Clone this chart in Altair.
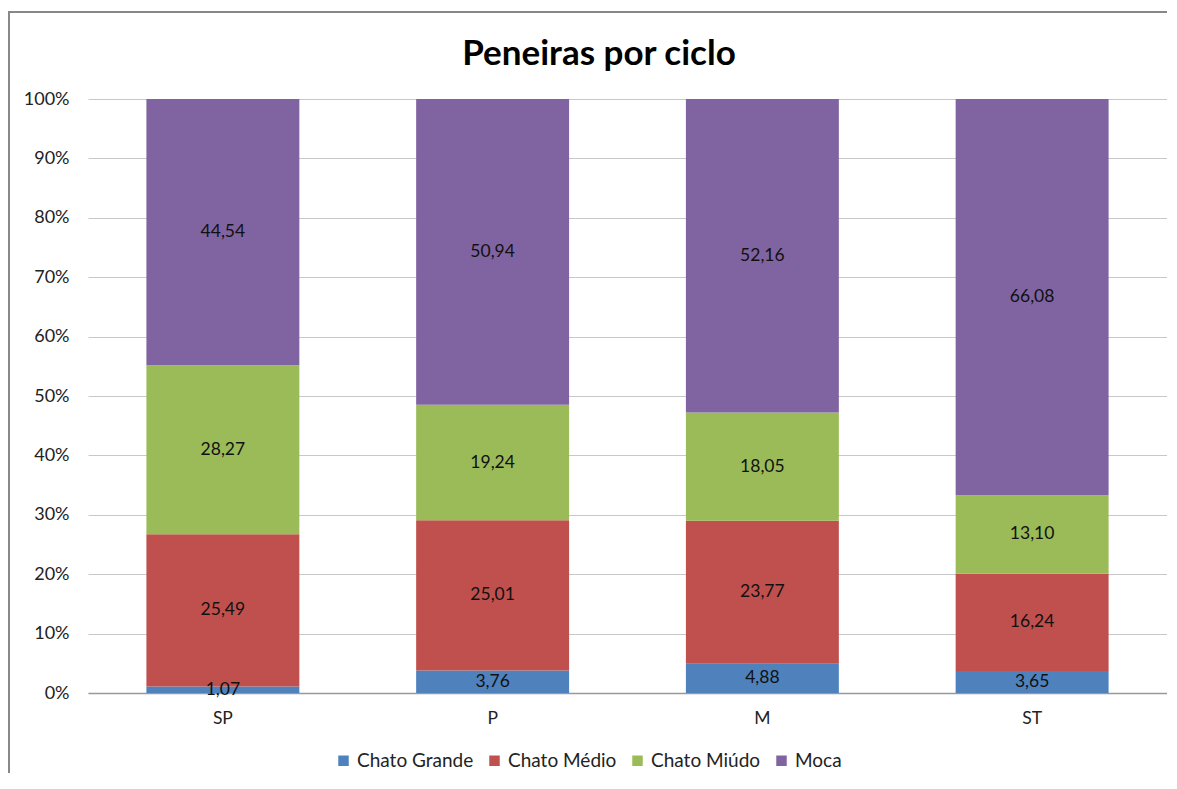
import altair as alt
import pandas as pd

title_text = "Peneiras por ciclo"
categories = ["SP", "P", "M", "ST"]
series = ["Chato Grande", "Chato Médio", "Chato Miúdo", "Moca"]
chato_grande = [1.07, 3.76, 4.88, 3.65]
chato_medio = [25.49, 25.01, 23.77, 16.24]
chato_miudo = [28.27, 19.24, 18.05, 13.10]
moca = [44.54, 50.94, 52.16, 66.08]
colors = ["#4F81BD", "#C0504D", "#9BBB59", "#8064A2"]
y_ticks = [0, 0.1, 0.2, 0.3, 0.4, 0.5, 0.6, 0.7, 0.8, 0.9, 1.0]

rows = []
for si, (name, vals) in enumerate(zip(series, [chato_grande, chato_medio, chato_miudo, moca])):
    for ci, cat in enumerate(categories):
        rows.append({"cat": cat, "series": name, "value": vals[ci], "order": si})
df = pd.DataFrame(rows)

FONT = "Lato"
W, H = 1079, 594

base = alt.Chart(df).transform_stack(
    stack="value", groupby=["cat"], offset="normalize",
    sort=[alt.SortField("order", order="ascending")], as_=["y0", "y1"]
).transform_calculate(
    mid="(datum.y0 + datum.y1) / 2",
    label="replace(format(datum.value, '.2f'), '.', ',')"
)

xenc = alt.X("cat:N", sort=categories, title=None,
             scale=alt.Scale(paddingInner=0.433, paddingOuter=0.2165),
             axis=alt.Axis(labelAngle=0, labelFontSize=17.5, labelFont=FONT, labelColor="#222",
                           ticks=False, domainColor="#999", domainWidth=1.5, labelPadding=16))

bars = base.mark_bar(stroke=None).encode(
    x=xenc,
    y=alt.Y("y0:Q", title=None, scale=alt.Scale(domain=[0, 1], nice=False),
            axis=alt.Axis(format=".0%", values=y_ticks, labelFontSize=18, labelFont=FONT,
                          labelColor="#222", ticks=False, domain=False, gridColor="#c8c8c8",
                          gridWidth=1.2, labelPadding=19)),
    y2="y1:Q",
    color=alt.Color("series:N", sort=series,
                    scale=alt.Scale(domain=series, range=colors),
                    legend=alt.Legend(title=None, orient="none", direction="horizontal",
                                      legendX=246, legendY=652, symbolType="square",
                                      symbolSize=110, symbolStrokeWidth=0, labelFontSize=19,
                                      labelFont=FONT, labelColor="#222", columnPadding=11,
                                      labelOffset=4, labelLimit=300)),
)

texts = base.mark_text(fontSize=17.5, font=FONT, color="#111", baseline="middle").encode(
    x=alt.X("cat:N", sort=categories),
    y=alt.Y("mid:Q"),
    text="label:N",
)

title = alt.Chart(pd.DataFrame({"t": [title_text]})).mark_text(
    font=FONT, fontSize=35, fontWeight="bold", color="#000",
    align="center", baseline="alphabetic"
).encode(x=alt.value(511), y=alt.value(-34), text="t:N")

frame = pd.DataFrame({"k": [0]})
border_left = alt.Chart(frame).mark_rule(color="#888", strokeWidth=2, clip=False).encode(
    x=alt.value(-79), y=alt.value(-87), y2=alt.value(700))
border_top = alt.Chart(frame).mark_rule(color="#888", strokeWidth=2, clip=False).encode(
    x=alt.value(-80), x2=alt.value(1079), y=alt.value(-87))

chart = alt.layer(bars, texts, title, border_left, border_top).properties(
    width=W, height=H,
    autosize=alt.AutoSizeParams(type="none"),
    padding={"left": 80, "top": 91, "right": 0, "bottom": 80},
).configure_view(stroke=None)

chart.save("out.html", embed_options={"renderer": "svg", "actions": False})
